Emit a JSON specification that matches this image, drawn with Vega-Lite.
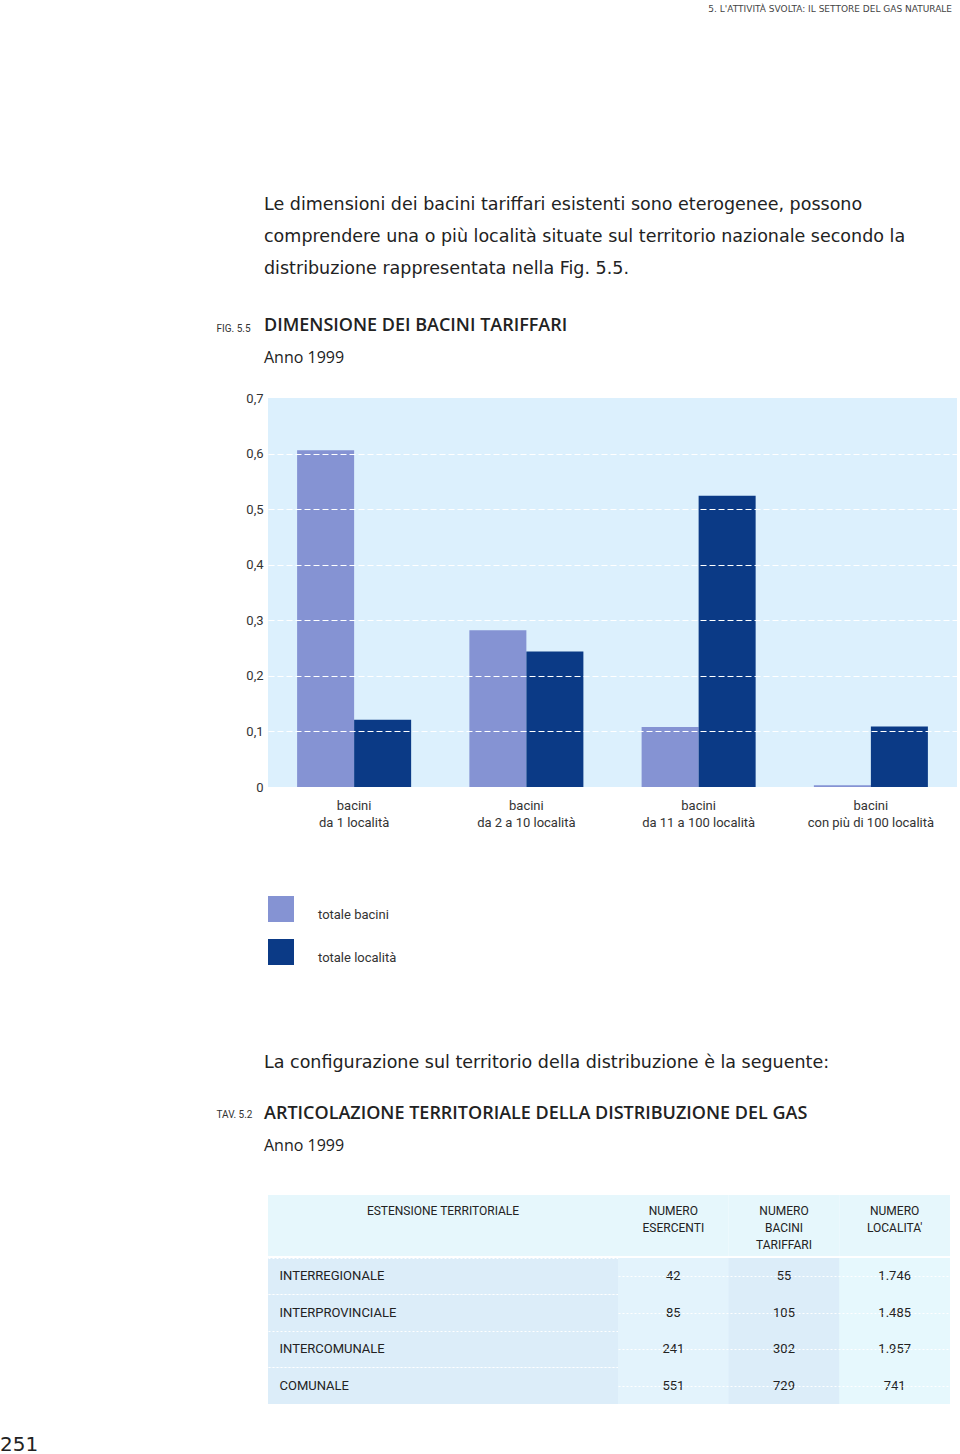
{
  "$schema": "https://vega.github.io/schema/vega-lite/v6.json",
  "padding": {"left": 0, "top": 4, "right": 0, "bottom": 0},
  "background": "white",
  "bounds": "flush",
  "spacing": 797,
  "title": {
    "text": "5. L'ATTIVITÀ SVOLTA: IL SETTORE DEL GAS NATURALE",
    "anchor": "end",
    "frame": "bounds",
    "dx": -5,
    "offset": 182,
    "font": "DejaVu Sans",
    "fontSize": 9,
    "fontWeight": "normal",
    "color": "#444"
  },
  "resolve": {"scale": {"color": "independent"}},
  "vconcat": [
    {
      "bounds": "flush",
      "title": {
        "text": [
          "Le dimensioni dei bacini tariffari esistenti sono eterogenee, possono",
          "comprendere una o più località situate sul territorio nazionale secondo la",
          "distribuzione rappresentata nella Fig. 5.5."
        ],
        "anchor": "start",
        "frame": "group",
        "dx": -4,
        "offset": 40,
        "font": "DejaVu Sans",
        "fontSize": 17.5,
        "fontWeight": "normal",
        "lineHeight": 32,
        "color": "#222"
      },
      "vconcat": [
        {
          "width": 689,
          "height": 389,
          "view": {"fill": "#dcf0fd", "stroke": null},
          "title": {
            "text": "DIMENSIONE DEI BACINI TARIFFARI",
            "subtitle": "Anno 1999",
            "anchor": "start",
            "frame": "group",
            "dx": -4,
            "offset": -43,
            "font": "Open Sans",
            "fontSize": 18,
            "fontWeight": 600,
            "color": "#222",
            "subtitleFont": "Open Sans",
            "subtitleFontSize": 16,
            "subtitleColor": "#222",
            "subtitlePadding": 15
          },
          "data": {
            "values": [
              {"categoria": "bacini\nda 1 località", "serie": "totale bacini", "valore": 0.606},
              {"categoria": "bacini\nda 1 località", "serie": "totale località", "valore": 0.121},
              {"categoria": "bacini\nda 2 a 10 località", "serie": "totale bacini", "valore": 0.282},
              {"categoria": "bacini\nda 2 a 10 località", "serie": "totale località", "valore": 0.244},
              {"categoria": "bacini\nda 11 a 100 località", "serie": "totale bacini", "valore": 0.108},
              {"categoria": "bacini\nda 11 a 100 località", "serie": "totale località", "valore": 0.524},
              {"categoria": "bacini\ncon più di 100 località", "serie": "totale bacini", "valore": 0.003},
              {"categoria": "bacini\ncon più di 100 località", "serie": "totale località", "valore": 0.109}
            ]
          },
          "mark": {"type": "bar"},
          "encoding": {
            "x": {
              "field": "categoria",
              "type": "nominal",
              "sort": null,
              "scale": {"paddingInner": 0.338, "paddingOuter": 0.169},
              "axis": {
                "title": null,
                "labelAngle": 0,
                "labelExpr": "split(datum.label, '\\n')",
                "domain": false,
                "ticks": false,
                "tickSize": 0,
                "labelPadding": 12,
                "labelFontSize": 13,
                "labelLineHeight": 17,
                "labelBaseline": "top",
                "labelColor": "#333"
              }
            },
            "xOffset": {
              "field": "serie",
              "type": "nominal",
              "sort": null,
              "scale": {"paddingInner": 0, "paddingOuter": 0}
            },
            "y": {
              "field": "valore",
              "type": "quantitative",
              "scale": {"domain": [0, 0.7], "nice": false},
              "axis": {
                "title": "FIG. 5.5",
                "titleAngle": 0,
                "titleX": -52,
                "titleY": -67,
                "titleAlign": "left",
                "titleBaseline": "alphabetic",
                "titleFontSize": 10,
                "titleFontWeight": "normal",
                "titleColor": "#333",
                "values": [0, 0.1, 0.2, 0.3, 0.4, 0.5, 0.6, 0.7],
                "format": "~g",
                "domain": false,
                "ticks": false,
                "tickSize": 0,
                "labelPadding": 5,
                "labelFontSize": 13,
                "labelColor": "#333",
                "grid": true,
                "gridColor": "#ffffff",
                "gridDash": [6, 3],
                "gridWidth": 1.2,
                "gridOpacity": {"condition": {"test": "datum.value < 0.001 || datum.value > 0.699", "value": 0}, "value": 1},
                "zindex": 1
              }
            },
            "color": {
              "field": "serie",
              "type": "nominal",
              "sort": null,
              "scale": {"domain": ["totale bacini", "totale località"], "range": ["#8593d3", "#0b3a86"]},
              "legend": {
                "title": null,
                "orient": "bottom",
                "direction": "vertical",
                "symbolType": "square",
                "symbolSize": 676,
                "symbolStrokeWidth": 0,
                "symbolOpacity": 1,
                "labelFontSize": 13,
                "labelOffset": 24,
                "labelBaseline": "top",
                "labelColor": "#333",
                "rowPadding": 17,
                "offset": 67,
                "padding": 0
              }
            }
          }
        }
      ]
    },
    {
      "bounds": "flush",
      "spacing": 63,
      "title": {
        "text": "La configurazione sul territorio della distribuzione è la seguente:",
        "anchor": "start",
        "frame": "group",
        "dx": -4,
        "offset": 34,
        "font": "DejaVu Sans",
        "fontSize": 17.5,
        "fontWeight": "normal",
        "color": "#222"
      },
      "vconcat": [
        {
          "bounds": "flush",
          "spacing": 0,
          "hconcat": [
            {
              "width": 350,
              "height": 61,
              "title": {
                "text": "ARTICOLAZIONE TERRITORIALE DELLA DISTRIBUZIONE DEL GAS",
                "subtitle": "Anno 1999",
                "anchor": "start",
                "frame": "group",
                "dx": -4,
                "offset": 41,
                "font": "Open Sans",
                "fontSize": 18,
                "fontWeight": 600,
                "color": "#222",
                "subtitleFont": "Open Sans",
                "subtitleFontSize": 16,
                "subtitleColor": "#222",
                "subtitlePadding": 15
              },
              "data": {"values": [{"intestazione": "ESTENSIONE TERRITORIALE"}]},
              "mark": {"type": "rect", "color": "#e6f7fc"},
              "encoding": {
                "x": {
                  "field": "intestazione",
                  "type": "nominal",
                  "scale": {"paddingInner": 0, "paddingOuter": 0},
                  "axis": {
                    "orient": "top",
                    "title": null,
                    "domain": false,
                    "ticks": false,
                    "tickSize": 0,
                    "labelPadding": -10,
                    "labelBaseline": "top",
                    "labelAngle": 0,
                    "labelFontSize": 12,
                    "labelColor": "#222",
                    "zindex": 1
                  }
                }
              }
            },
            {
              "width": 332,
              "height": 61,
              "data": {"values": [
                {"intestazione": "NUMERO\nESERCENTI"},
                {"intestazione": "NUMERO\nBACINI\nTARIFFARI"},
                {"intestazione": "NUMERO\nLOCALITA'"}
              ]},
              "mark": {"type": "rect", "color": "#e6f7fc"},
              "encoding": {
                "x": {
                  "field": "intestazione",
                  "type": "nominal",
                  "sort": null,
                  "scale": {"paddingInner": 0, "paddingOuter": 0},
                  "axis": {
                    "orient": "top",
                    "title": null,
                    "domain": false,
                    "ticks": false,
                    "tickSize": 0,
                    "labelPadding": -10,
                    "labelBaseline": "top",
                    "labelAngle": 0,
                    "labelExpr": "split(datum.label, '\\n')",
                    "labelLineHeight": 17,
                    "labelFontSize": 12,
                    "labelColor": "#222",
                    "zindex": 1
                  }
                }
              }
            }
          ]
        },
        {
          "bounds": "flush",
          "spacing": 0,
          "hconcat": [
            {
              "width": 350,
              "height": 146,
              "title": {
                "text": "251",
                "orient": "bottom",
                "anchor": "start",
                "frame": "group",
                "dx": -268,
                "offset": 31,
                "font": "DejaVu Sans",
                "fontSize": 20,
                "fontWeight": "normal",
                "color": "#222"
              },
              "data": {"values": [
                {"estensione": "INTERREGIONALE"},
                {"estensione": "INTERPROVINCIALE"},
                {"estensione": "INTERCOMUNALE"},
                {"estensione": "COMUNALE"}
              ]},
              "mark": {"type": "rect", "color": "#dcedf9"},
              "encoding": {
                "y": {
                  "field": "estensione",
                  "type": "nominal",
                  "sort": null,
                  "scale": {"paddingInner": 0, "paddingOuter": 0},
                  "axis": {
                    "title": "TAV. 5.2",
                    "titleAngle": 0,
                    "titleX": -52,
                    "titleY": -141,
                    "titleAlign": "left",
                    "titleBaseline": "alphabetic",
                    "titleFontSize": 10,
                    "titleFontWeight": "normal",
                    "titleColor": "#333",
                    "labelAlign": "left",
                    "labelPadding": -11,
                    "ticks": false,
                    "tickSize": 0,
                    "domain": false,
                    "labelFontSize": 13,
                    "labelColor": "#222",
                    "grid": true,
                    "bandPosition": 0,
                    "gridColor": "#ffffff",
                    "gridDash": [2, 2],
                    "gridWidth": 1,
                    "zindex": 1
                  }
                }
              }
            },
            {
              "width": 332,
              "height": 146,
              "data": {"values": [
                {"estensione": "INTERREGIONALE", "colonna": "ESERCENTI", "valore": 42},
                {"estensione": "INTERREGIONALE", "colonna": "BACINI", "valore": 55},
                {"estensione": "INTERREGIONALE", "colonna": "LOCALITA", "valore": 1746},
                {"estensione": "INTERPROVINCIALE", "colonna": "ESERCENTI", "valore": 85},
                {"estensione": "INTERPROVINCIALE", "colonna": "BACINI", "valore": 105},
                {"estensione": "INTERPROVINCIALE", "colonna": "LOCALITA", "valore": 1485},
                {"estensione": "INTERCOMUNALE", "colonna": "ESERCENTI", "valore": 241},
                {"estensione": "INTERCOMUNALE", "colonna": "BACINI", "valore": 302},
                {"estensione": "INTERCOMUNALE", "colonna": "LOCALITA", "valore": 1957},
                {"estensione": "COMUNALE", "colonna": "ESERCENTI", "valore": 551},
                {"estensione": "COMUNALE", "colonna": "BACINI", "valore": 729},
                {"estensione": "COMUNALE", "colonna": "LOCALITA", "valore": 741}
              ]},
              "encoding": {
                "x": {
                  "field": "colonna",
                  "type": "nominal",
                  "sort": null,
                  "scale": {"paddingInner": 0, "paddingOuter": 0},
                  "axis": null
                }
              },
              "layer": [
                {
                  "mark": {"type": "rect"},
                  "encoding": {
                    "color": {
                      "condition": [
                        {"test": "datum.colonna === 'BACINI'", "value": "#dcedf9"},
                        {"test": "datum.colonna === 'LOCALITA'", "value": "#e6f8fd"}
                      ],
                      "value": "#e3f3fc"
                    }
                  }
                },
                {
                  "mark": {"type": "text", "fontSize": 13, "color": "#222"},
                  "encoding": {
                    "y": {
                      "field": "estensione",
                      "type": "nominal",
                      "sort": null,
                      "scale": {"paddingInner": 0, "paddingOuter": 0},
                      "axis": {
                        "title": null,
                        "labels": false,
                        "ticks": false,
                        "domain": false,
                        "grid": true,
                        "bandPosition": 0,
                        "gridColor": "#ffffff",
                        "gridDash": [2, 2],
                        "gridWidth": 1,
                        "zindex": 1
                      }
                    },
                    "text": {"field": "valore", "type": "quantitative", "format": ",d"}
                  }
                }
              ]
            }
          ]
        }
      ]
    }
  ],
  "config": {
    "locale": {"number": {"decimal": ",", "thousands": ".", "grouping": [3], "currency": ["€", ""]}},
    "view": {"stroke": null},
    "font": "Roboto",
    "axis": {"labelFont": "Roboto", "titleFont": "Roboto"},
    "legend": {"labelFont": "Roboto"},
    "text": {"font": "Roboto"}
  }
}
